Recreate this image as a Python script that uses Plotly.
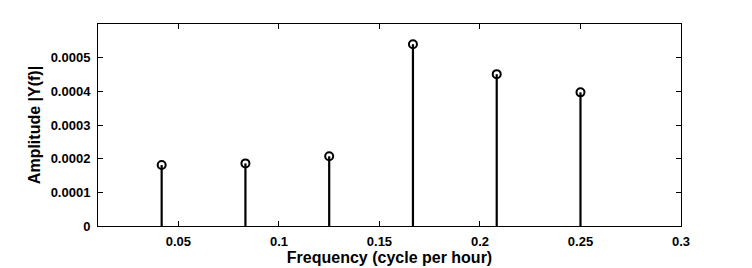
import plotly.graph_objects as go

freq = [1/24, 2/24, 3/24, 4/24, 5/24, 6/24]
amplitude = [0.000181, 0.000186, 0.000207, 0.000540, 0.000451, 0.000397]

x_ticks = [0.05, 0.1, 0.15, 0.2, 0.25, 0.3]
x_tick_labels = ["0.05", "0.1", "0.15", "0.2", "0.25", "0.3"]
y_ticks = [0, 0.0001, 0.0002, 0.0003, 0.0004, 0.0005]
y_tick_labels = ["0", "0.0001", "0.0002", "0.0003", "0.0004", "0.0005"]

font = dict(family="Liberation Sans, Arial, sans-serif", size=13, color="black")

fig = go.Figure()
fig.add_trace(go.Scatter(
    x=freq, y=amplitude, mode="markers",
    marker=dict(symbol="circle-open", size=8, color="black", line=dict(width=2, color="black")),
    error_y=dict(type="data", symmetric=False, array=[0]*len(amplitude),
                 arrayminus=amplitude, width=0, thickness=2.2, color="black"),
    showlegend=False, cliponaxis=False,
))

axis_common = dict(
    showgrid=False, zeroline=False, showline=True, linecolor="black", linewidth=1,
    mirror="ticks", ticks="inside", ticklen=5, tickcolor="black", tickwidth=1,
    automargin=False,
    tickfont=dict(family=font["family"], size=13, color="black", weight="bold"),
)

fig.update_layout(
    width=744, height=260,
    margin=dict(l=90, r=71, t=16, b=42),
    paper_bgcolor="white", plot_bgcolor="white",
    font=font,
    xaxis=dict(range=[0.01, 0.3], tickvals=x_ticks, ticktext=x_tick_labels,
               title=dict(text="Frequency (cycle per hour)", standoff=2,
                          font=dict(size=16, weight="bold")),
               ticklabelstandoff=3, **axis_common),
    yaxis=dict(range=[0, 0.0006], tickvals=y_ticks, ticktext=y_tick_labels,
               title=dict(text="Amplitude |Y(f)|", standoff=6,
                          font=dict(size=16, weight="bold")),
               ticklabelstandoff=4, **axis_common),
)

fig.write_html("out.html")
